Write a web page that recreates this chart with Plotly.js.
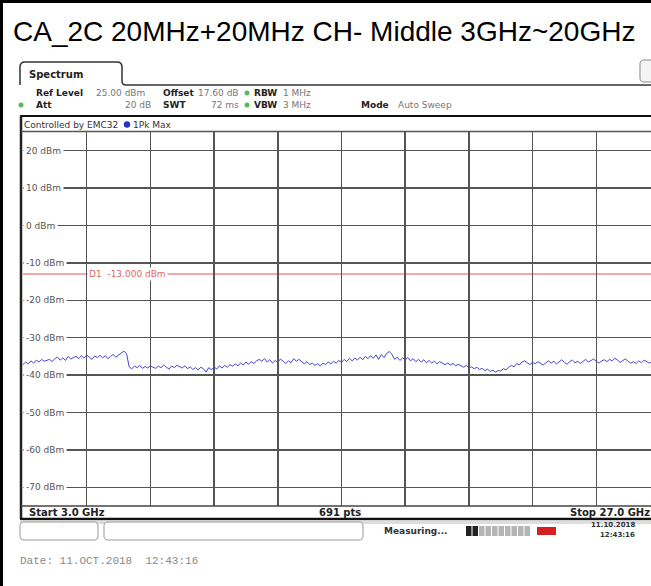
<!DOCTYPE html>
<html><head><meta charset="utf-8">
<script src="https://cdn.plot.ly/plotly-3.0.1.min.js"></script>
<style>html,body{margin:0;padding:0;background:#fff;}#c{width:651px;height:586px;}</style>
</head><body><div id="c"></div>
<script>
// ---- data ----
const titleText = "CA_2C 20MHz+20MHz CH- Middle 3GHz~20GHz";
const freqStartGHz = 3.0;
const freqStopGHz = 27.0;
const refLevel = 25;      // dBm (top of screen)
const bottomLevel = -75;  // dBm
const yTickValues = [20, 10, 0, -10, -20, -30, -40, -50, -60, -70];
const yTickLabels = ["20 dBm","10 dBm","0 dBm","-10 dBm","-20 dBm","-30 dBm","-40 dBm","-50 dBm","-60 dBm","-70 dBm"];
const limitLevel = -13;
const limitLabel = "D1  -13.000 dBm";
// 1Pk Max trace, 0.1 GHz steps from 3.0 GHz to 27.0 GHz
const traceDbm = [
 -37.2,-36.5,-37.0,-36.2,-36.8,-36.0,-36.5,-35.8,-36.3,-36.0,
 -35.8,-36.4,-35.6,-35.2,-36.0,-35.4,-36.1,-35.0,-35.7,-35.3,
 -35.0,-35.6,-34.8,-35.5,-34.6,-35.2,-35.8,-34.9,-35.3,-34.7,
 -35.4,-34.8,-35.6,-35.0,-34.5,-35.2,-34.6,-34.0,-33.6,-34.2,
 -37.8,-38.3,-37.6,-38.0,-37.4,-38.2,-37.7,-38.1,-37.5,-37.9,
 -38.2,-37.6,-38.0,-37.3,-37.9,-38.4,-37.6,-38.0,-37.4,-37.8,
 -38.1,-37.5,-38.3,-37.8,-38.5,-38.0,-38.6,-37.9,-38.3,-39.2,
 -38.0,-38.6,-37.8,-38.4,-37.5,-38.1,-37.4,-37.9,-37.2,-37.6,
 -37.0,-37.5,-36.8,-37.3,-36.5,-37.1,-36.4,-36.9,-36.2,-35.8,
 -36.3,-35.6,-36.5,-35.9,-36.8,-36.1,-36.6,-35.7,-36.4,-36.9,
 -36.2,-36.7,-35.6,-36.3,-35.8,-36.5,-37.0,-36.4,-37.2,-36.8,
 -37.4,-36.9,-37.6,-36.8,-37.2,-36.5,-37.0,-36.3,-36.8,-36.1,
 -36.6,-35.8,-36.4,-35.5,-36.2,-35.4,-36.0,-35.2,-35.9,-35.0,
 -35.6,-34.8,-35.5,-34.6,-35.8,-34.5,-35.3,-34.2,-33.7,-34.4,
 -35.8,-35.2,-36.1,-35.4,-35.9,-35.3,-36.2,-35.6,-36.4,-35.8,
 -36.5,-35.9,-36.7,-36.1,-36.8,-36.3,-37.0,-36.4,-36.9,-37.2,
 -36.8,-37.3,-36.9,-37.5,-37.1,-37.6,-37.9,-37.4,-38.1,-37.8,
 -38.3,-37.9,-38.5,-38.2,-38.8,-38.4,-39.0,-38.7,-39.2,-38.8,
 -38.9,-38.3,-38.6,-37.9,-37.4,-37.8,-36.9,-37.3,-36.5,-36.2,
 -36.8,-37.2,-36.6,-37.0,-36.4,-36.9,-37.3,-36.7,-36.2,-36.8,
 -36.3,-37.0,-36.5,-35.9,-36.6,-37.1,-36.4,-36.0,-36.7,-36.3,
 -36.9,-36.4,-35.8,-36.5,-36.1,-35.7,-36.3,-36.8,-36.2,-35.9,
 -36.4,-35.8,-36.2,-35.5,-36.0,-36.6,-36.1,-35.7,-36.3,-36.8,
 -36.4,-36.9,-36.2,-36.7,-36.0,-36.5,-36.8,-36.3,-36.6,-36.2,-36.5
];
const headerRow1 = [["Ref Level",true],["25.00 dBm",false],["Offset",true],["17.60 dB",false],["RBW",true],["1 MHz",false]];
const headerRow2 = [["Att",true],["20 dB",false],["SWT",true],["72 ms",false],["VBW",true],["3 MHz",false],["Mode",true],["Auto Sweep",false]];
const controlText = "Controlled by EMC32";
const traceName = "1Pk Max";
const startLabel = "Start 3.0 GHz";
const ptsLabel = "691 pts";
const stopLabel = "Stop 27.0 GHz";
const statusText = "Measuring...";
const statusDate = "11.10.2018";
const statusTime = "12:43:16";
const footerText = "Date: 11.OCT.2018  12:43:16";

// ---- geometry (pixels) ----
const L = 23, R = 651, T = 132, B = 506;
const fullW = 637; // graticule is 10 divisions wide, cropped at the right
const visibleStop = freqStartGHz + (freqStopGHz - freqStartGHz) * (R - L) / fullW;
const px = x => (x - L) / (R - L);
const py = y => (B - y) / (B - T);

const freqs = traceDbm.map((_, i) => freqStartGHz + i * (freqStopGHz - freqStartGHz) / (traceDbm.length - 1));

const shapes = [];
const ann = [];
function line(x0,y0,x1,y1,color,w){shapes.push({type:'line',xref:'paper',yref:'paper',x0:px(x0),y0:py(y0),x1:px(x1),y1:py(y1),line:{color:color,width:w},layer:'above'});}
function rect(x0,y0,x1,y1,fill,lc,lw){shapes.push({type:'rect',xref:'paper',yref:'paper',x0:px(x0),y0:py(y0),x1:px(x1),y1:py(y1),fillcolor:fill,line:{color:lc||fill,width:lw||0},layer:'above'});}
function P(x,y){return px(x).toFixed(5)+','+py(y).toFixed(5);}
function rrect(x0,y0,x1,y1,r,lc,lw,fill){
  const p='M'+P(x0+r,y0)+' L'+P(x1-r,y0)+' Q'+P(x1,y0)+' '+P(x1,y0+r)+' L'+P(x1,y1-r)+' Q'+P(x1,y1)+' '+P(x1-r,y1)+
   ' L'+P(x0+r,y1)+' Q'+P(x0,y1)+' '+P(x0,y1-r)+' L'+P(x0,y0+r)+' Q'+P(x0,y0)+' '+P(x0+r,y0)+' Z';
  shapes.push({type:'path',xref:'paper',yref:'paper',path:p,line:{color:lc,width:lw},fillcolor:fill||'rgba(0,0,0,0)',layer:'above'});
}
function text(x,y,t,opt){
  opt=opt||{};
  ann.push({xref:'paper',yref:'paper',x:px(x),y:py(y),text:t,showarrow:false,xanchor:opt.anchor||'left',yanchor:'middle',
    font:{family:opt.family||'DejaVu Sans',size:opt.size||9,color:opt.color||'#222',weight:opt.bold?'bold':'normal'},
    bgcolor:opt.bg||'rgba(0,0,0,0)',borderpad:opt.pad||0});
}
function dot(x,y,color,r){shapes.push({type:'circle',xref:'paper',yref:'paper',x0:px(x-r),y0:py(y-r),x1:px(x+r),y1:py(y+r),fillcolor:color,line:{width:0},layer:'above'});}

// outer frame
line(1.5,0,1.5,586,'#000',3);
line(0,1.5,651,1.5,'#000',3);

// title
text(324,31,titleText,{family:'Liberation Sans',size:28,color:'#000',anchor:'center'});

// Spectrum tab
shapes.push({type:'path',xref:'paper',yref:'paper',layer:'above',line:{color:'#333',width:1.5},
  path:'M'+P(20,85)+' L'+P(20,67)+' Q'+P(20,62)+' '+P(25,62)+' L'+P(117,62)+' Q'+P(122,62)+' '+P(122,67)+' L'+P(122,81)+' Q'+P(122,85)+' '+P(126,85)+' L'+P(651,85)});
text(28,74,'Spectrum',{bold:true,size:10,color:'#222'});
rrect(640,60,656,82,4,'#888',1,'#f4f4f4');

// header rows
const row1X = [35,95,162,197,253,282];
const row2X = [35,152,162,240,253,282,360,397];
headerRow1.forEach((h,i)=>text(row1X[i],93,h[0],{bold:h[1],size:9,color:h[1]?'#222':'#777'}));
headerRow2.forEach((h,i)=>text(row2X[i],105,h[0],{bold:h[1],size:9,color:h[1]?'#222':'#777',anchor:(i===1||i===3)?'right':'left'}));
dot(247,93,'#5cb85c',2.5);
dot(247,105,'#5cb85c',2.5);
dot(21,105,'#5cb85c',2.5);

// control box
line(20,116,651,116,'#111',2);
line(21,116,21,519,'#222',2.5);
text(23,124.5,controlText,{size:9,color:'#333'});
dot(127,124.5,'#2233cc',3.2);
text(132,124.5,traceName,{size:9,color:'#333'});
line(21,131.5,651,131.5,'#555',1.5);

// y labels inside graticule
yTickValues.forEach((v,i)=>ann.push({xref:'paper',yref:'y',x:px(22.5),y:v,text:yTickLabels[i],showarrow:false,xanchor:'left',yanchor:'middle',
  font:{family:'DejaVu Sans',size:9,color:'#555'},bgcolor:'#fff',borderpad:2}));
// limit line
shapes.push({type:'line',xref:'paper',yref:'y',x0:0,x1:1,y0:limitLevel,y1:limitLevel,line:{color:'#f08c8c',width:1.5},layer:'below'});
ann.push({xref:'x',yref:'y',x:freqStartGHz+ (freqStopGHz-freqStartGHz)*0.1,y:limitLevel,text:limitLabel,showarrow:false,xanchor:'left',yanchor:'middle',
  font:{family:'DejaVu Sans',size:9,color:'#e06666'},bgcolor:'#fff',borderpad:1});

// bottom row
line(21,506,651,506,'#444',1.5);
text(28,512,startLabel,{bold:true,size:10,color:'#222'});
text(340,512,ptsLabel,{bold:true,size:10,color:'#222',anchor:'center'});
text(651,512,stopLabel,{bold:true,size:10,color:'#222',anchor:'right'});
line(20,519,651,519,'#111',2.5);
rect(20,520.5,651,524,'#ddd');
rrect(20,522,98,540,4,'#999',1,'#fff');
rrect(104,522,363,540,4,'#999',1,'#fff');
text(383,531,statusText,{bold:true,size:9,color:'#333'});
for(let k=0;k<10;k++){rect(466+k*6.5,526,466+k*6.5+5.5,536,k<2?'#222':'#b5b5b5');}
rect(537,527,556,535,'#d42020');
text(636,525,statusDate,{bold:true,size:7,color:'#333',anchor:'right'});
text(636,535,statusTime,{bold:true,size:7,color:'#333',anchor:'right'});

// footer
text(19,561,footerText,{family:'Liberation Mono',size:11,color:'#8a8a8a'});

const data = [{x:freqs,y:traceDbm,type:'scatter',mode:'lines',line:{color:'#4646d2',width:1},hoverinfo:'skip',showlegend:false}];
const layout = {
  width:651,height:586,margin:{l:L,r:651-R,t:T,b:586-B,pad:0},
  paper_bgcolor:'#fff',plot_bgcolor:'#fff',showlegend:false,
  xaxis:{range:[freqStartGHz,visibleStop],tick0:freqStartGHz,dtick:(freqStopGHz-freqStartGHz)/10,showgrid:true,gridcolor:'#555',gridwidth:1.5,
    showticklabels:false,zeroline:false,showline:false,ticks:'',fixedrange:true},
  yaxis:{range:[bottomLevel,refLevel],tick0:0,dtick:10,showgrid:true,gridcolor:'#555',gridwidth:1.5,
    showticklabels:false,zeroline:false,showline:false,ticks:'',fixedrange:true},
  shapes:shapes,annotations:ann
};
Plotly.newPlot('c',data,layout,{displayModeBar:false,staticPlot:true});
</script></body></html>
